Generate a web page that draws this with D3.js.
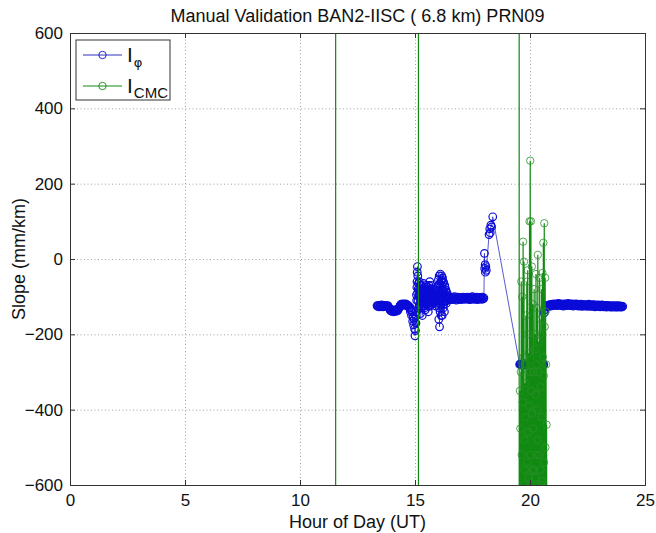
<!DOCTYPE html>
<html><head><meta charset="utf-8">
<script src="https://cdn.jsdelivr.net/npm/d3@7"></script>
<style>
body{margin:0;background:#fff}
svg{display:block}
text{font-family:"Liberation Sans",Arial,Helvetica,sans-serif;fill:#111}
</style>
</head><body>
<svg id="c" width="656" height="533"></svg>
<script>
// ---- data ----
const xTicks = [0, 5, 10, 15, 20, 25];
const yTicks = [-600, -400, -200, 0, 200, 400, 600];
const titleText = "Manual Validation BAN2-IISC ( 6.8 km) PRN09";
const xLabel = "Hour of Day (UT)";
const yLabel = "Slope (mm/km)";
const legendMain = ["I", "I"];
const legendSub = ["\u03C6", "CMC"];

// I_phi series
const phiSeg1Start = 13.35, phiSeg1Step = 0.025;
const phiSeg1 = [-124,-126,-125,-123,-127,-125,-124,-126,-122,-125,-127,-124,-126,-125,-123,-126,-124,-127,-125,-124,-128,-130,
 -133,-136,-138,-135,-139,-137,-136,-140,-138,-135,-137,-139,-136,-134,-137,-133,-131,-128,
 -124,-122,-120,-123,-121,-119,-122,-120,-121,-123,-119,-121,-122,-124,-123,-126,-130];
const phiSeg1bHours = [14.78,14.8,14.82,14.85,14.87,14.9,14.92,14.94,14.96,14.98,15.0,15.02];
const phiSeg1b = [-128,-140,-135,-150,-140,-165,-155,-175,-160,-185,-204,-190];
const phiSeg2Start = 15.04, phiSeg2Step = 0.0163;
const phiSeg2 = [-170,-150,-110,-60,-20,-45,-80,-130,-95,-60,
 -120,-85,-145,-100,-70,-115,-90,-150,-85,-105,
 -65,-125,-95,-110,-80,-135,-100,-70,-115,-90,
 -120,-75,-105,-140,-85,-110,-95,-60,-125,-90,
 -115,-70,-100,-88,-108,-96,-118,-80,-104,-92,
 -112,-86,-100,-94,-120,-76,-102,-98,-110,-84,
 -55,-160,-45,-180,-95,-40,-120,-60,-105,-45,
 -150,-50,-85,-130,-62,-100,-140,-70,-110,-95,
 -82,-118,-100,-90,-105,-98,-108,-100,-104,-102];
const phiSeg2bStart = 15.048, phiSeg2bStep = 0.0163;
const phiSeg2b = [-140,-95,-75,-35,-90,-110,-65,-100,-125,-80,
 -95,-130,-70,-110,-90,-125,-105,-80,-120,-95,
 -110,-85,-130,-75,-105,-95,-115,-90,-100,-120,
 -85,-110,-95,-125,-70,-100,-115,-90,-105,-80,
 -100,-120,-90,-110,-95,-105,-85,-115,-100,-95,
 -90,-110,-105,-125,-95,-100,-85,-115,-100,-108,
 -70,-110,-130,-65,-140,-75,-90,-150,-55,-100,
 -80,-115,-60,-95,-120,-85,-105,-75,-100,-112,
 -98,-106,-102,-110,-100,-104,-99,-107,-103,-105];
const phiSeg3Start = 16.52, phiSeg3Step = 0.025;
const phiSeg3 = [-103,-106,-101,-108,-104,-102,-107,-105,-100,-106,
 -104,-109,-103,-105,-101,-107,-104,-106,-102,-108,
 -105,-103,-106,-101,-104,-107,-103,-105,-102,-106,
 -104,-101,-107,-103,-105,-108,-102,-104,-106,-100,
 -105,-103,-107,-104,-102,-106,-101,-105,-108,-103,
 -104,-106,-102,-105,-103,-107,-101,-104,-106,-103];
const phiSeg4Hours = [18.02,18.03,18.05,18.06,18.08,18.1,18.22,18.25,18.27,18.3,18.33,18.38];
const phiSeg4 = [15,-25,-15,-35,-20,-30,65,80,70,90,85,112];
const phiSeg5Start = 19.55, phiSeg5Step = 0.03;
const phiSeg5 = [-280,-279,-281,-280,-282,-279,-280,-281,-278,-280,-281,-279,-280,-282,-280,-279,-281,-280,-278,-280,-281,-280,-279,-282,-280,-281,-279,-280,-278,-281,-280,-279,-281,-280,-282,-280];
const phiSeg6Hours = [20.62, 20.64];
const phiSeg6 = [-143, -135];
const phiSeg7Start = 20.68, phiSeg7Step = 0.025;
const phiSeg7 = [-128,-126,-124,-125,-123,-126,-122,-124,-121,-125,
 -123,-120,-122,-124,-121,-119,-123,-120,-122,-121,
 -124,-120,-118,-122,-121,-123,-119,-121,-124,-120,
 -122,-125,-121,-119,-123,-120,-122,-124,-121,-118,
 -122,-120,-123,-121,-124,-119,-122,-120,-125,-121,
 -123,-121,-119,-124,-122,-120,-123,-125,-121,-122,
 -124,-120,-123,-126,-122,-121,-124,-122,-125,-123,
 -121,-124,-122,-126,-123,-120,-124,-122,-125,-123,
 -126,-122,-124,-121,-125,-123,-127,-122,-124,-126,
 -123,-125,-122,-126,-124,-127,-123,-125,-122,-126,
 -124,-127,-125,-123,-126,-124,-128,-125,-123,-126,
 -125,-127,-124,-126,-128,-125,-127,-124,-126,-125,
 -128,-126,-124,-127,-125,-128,-126,-124,-127,-125,
 -126,-128,-125,-127,-126];

// I_CMC series: off-scale spikes and the disturbed cluster
const cmcSpikeHours = [11.55, 15.15, 19.53];
const cmcSpikeValues = [-5000, 5000];
const cmcStart = 19.54, cmcStep = 0.01;
const cmcValues = [-700,-900,-350,-620,-450,-800,-300,-700,-60,-900,
 -520,-750,-100,-640,-380,-850,46,-720,-260,-600,
 -7,-900,-480,-560,-330,-700,-420,-950,-150,-610,
 -280,-800,-60,-540,-700,-200,-30,-880,-460,-580,
 -250,-720,-390,-650,100,-900,-300,261,-1200,-520,
 100,-680,-350,-600,-20,-820,-410,-560,-120,-760,
 -450,-620,-300,-560,-80,-700,-240,-900,-200,-580,
 -360,-640,-40,-900,-280,-520,-130,-760,-400,-480,
 11,-750,-300,-660,-220,-620,-520,-880,-50,-680,
 -200,-560,-340,-720,-160,-600,-80,-700,-420,-590,
 -37,-640,-260,-780,43,-800,-310,-540,95,-900,
 -180,-620,-50,-500,-140,-650,-280,-900,-440,-700];

// ---- build ----
const seg = (start, step, vals) => vals.map((v, i) => ({h: start + i * step, v}));
const pairs = (hs, vals) => vals.map((v, i) => ({h: hs[i], v}));
// interleave the two sample sets of the disturbed stretch
const s2a = seg(phiSeg2Start, phiSeg2Step, phiSeg2), s2b = seg(phiSeg2bStart, phiSeg2bStep, phiSeg2b);
const s2 = [];
s2a.forEach((d, i) => { s2.push(d); if (s2b[i]) s2.push(s2b[i]); });
const phi = [].concat(
  seg(phiSeg1Start, phiSeg1Step, phiSeg1),
  pairs(phiSeg1bHours, phiSeg1b),
  s2,
  seg(phiSeg3Start, phiSeg3Step, phiSeg3),
  pairs(phiSeg4Hours, phiSeg4),
  seg(phiSeg5Start, phiSeg5Step, phiSeg5),
  pairs(phiSeg6Hours, phiSeg6),
  seg(phiSeg7Start, phiSeg7Step, phiSeg7)
);
const cmc = [];
cmcSpikeHours.forEach(h => { cmcSpikeValues.forEach(v => cmc.push({h, v})); cmc.push({h, v: null}); });
seg(cmcStart, cmcStep, cmcValues).forEach(d => cmc.push(d));

const W = 656, H = 533;
const m = {left: 70, top: 33, right: 11, bottom: 48};
const pw = W - m.left - m.right, ph = H - m.top - m.bottom;
const x = d3.scaleLinear().domain([0, 25]).range([0, pw]);
const y = d3.scaleLinear().domain([-600, 600]).range([ph, 0]);

const svg = d3.select("#c");
svg.append("rect").attr("width", W).attr("height", H).attr("fill", "#fff");
const g = svg.append("g").attr("transform", `translate(${m.left},${m.top})`);

g.append("defs").append("clipPath").attr("id", "clip")
  .append("rect").attr("width", pw).attr("height", ph);

// grid
const gridX = g.append("g").attr("transform", `translate(0,${ph})`)
  .call(d3.axisBottom(x).tickValues(xTicks).tickSize(-ph).tickFormat(""));
const gridY = g.append("g")
  .call(d3.axisLeft(y).tickValues(yTicks).tickSize(-pw).tickFormat(""));
[gridX, gridY].forEach(s => {
  s.select(".domain").remove();
  s.selectAll("line").attr("stroke", "#8a8a8a").attr("stroke-width", 0.8).attr("stroke-dasharray", "1,2.5");
});

// data
const line = d3.line().defined(d => d.v !== null).x(d => x(d.h)).y(d => y(d.v));
const plot = g.append("g").attr("clip-path", "url(#clip)");
const blue = "#0c0cd8", green = "#118a11";
plot.append("path").datum(phi).attr("d", line).attr("fill", "none").attr("stroke", "#3030c0").attr("stroke-width", 0.8);
plot.append("g").selectAll("circle").data(phi).join("circle")
  .attr("cx", d => x(d.h)).attr("cy", d => y(d.v)).attr("r", 3.8)
  .attr("fill", "none").attr("stroke", blue).attr("stroke-width", 1.2);
plot.append("path").datum(cmc).attr("d", line).attr("fill", "none").attr("stroke", green).attr("stroke-width", 1.2);
plot.append("g").selectAll("circle").data(cmc.filter(d => d.v !== null)).join("circle")
  .attr("cx", d => x(d.h)).attr("cy", d => y(d.v)).attr("r", 3.7)
  .attr("fill", "none").attr("stroke", "#2a8f2a").attr("stroke-width", 0.8);

// axes with inward ticks
const axB = g.append("g").attr("transform", `translate(0,${ph})`)
  .call(d3.axisBottom(x).tickValues(xTicks).tickSize(-5).tickPadding(9));
const axT = g.append("g").call(d3.axisTop(x).tickValues(xTicks).tickSize(-5).tickFormat(""));
const axL = g.append("g").call(d3.axisLeft(y).tickValues(yTicks).tickSize(-5).tickPadding(7));
const axR = g.append("g").attr("transform", `translate(${pw},0)`)
  .call(d3.axisRight(y).tickValues(yTicks).tickSize(-5).tickFormat(""));
[axB, axT, axL, axR].forEach(s => {
  s.select(".domain").attr("stroke", "#333").attr("stroke-width", 1);
  s.selectAll(".tick line").attr("stroke", "#333");
  s.selectAll(".tick text").attr("font-size", 17).attr("fill", "#111")
    .style("font-family", "'Liberation Sans',Arial,sans-serif");
});
axB.selectAll(".tick text").attr("dy", "0.71em");

// title & labels
svg.append("text").attr("x", m.left + pw / 2).attr("y", 22).attr("text-anchor", "middle")
  .attr("font-size", 18).text(titleText);
svg.append("text").attr("x", m.left + pw / 2).attr("y", 528).attr("text-anchor", "middle")
  .attr("font-size", 18).text(xLabel);
svg.append("text").attr("transform", `translate(25,${m.top + ph / 2}) rotate(-90)`)
  .attr("text-anchor", "middle").attr("font-size", 18).text(yLabel);

// legend
const lg = svg.append("g");
lg.append("rect").attr("x", 76).attr("y", 40).attr("width", 94).attr("height", 60)
  .attr("fill", "#fff").attr("stroke", "#333").attr("stroke-width", 1);
const lcol = [blue, green], lstroke = ["#3030c0", green];
[55, 86].forEach((ly, i) => {
  lg.append("line").attr("x1", 83).attr("x2", 122).attr("y1", ly).attr("y2", ly)
    .attr("stroke", lstroke[i]).attr("stroke-width", 1);
  lg.append("circle").attr("cx", 102.5).attr("cy", ly).attr("r", 3.7)
    .attr("fill", "none").attr("stroke", lcol[i]).attr("stroke-width", 0.9);
  const t = lg.append("text").attr("x", 127).attr("y", ly + 7).attr("font-size", 21).attr("fill", "#111");
  t.append("tspan").text(legendMain[i]);
  t.append("tspan").attr("font-size", i === 0 ? 13 : 15).attr("dy", 5).attr("dx", 1)
    .attr("fill", "#111").style("font-family", i === 0 ? "'DejaVu Sans',sans-serif" : null).text(legendSub[i]);
});
</script>
</body></html>
